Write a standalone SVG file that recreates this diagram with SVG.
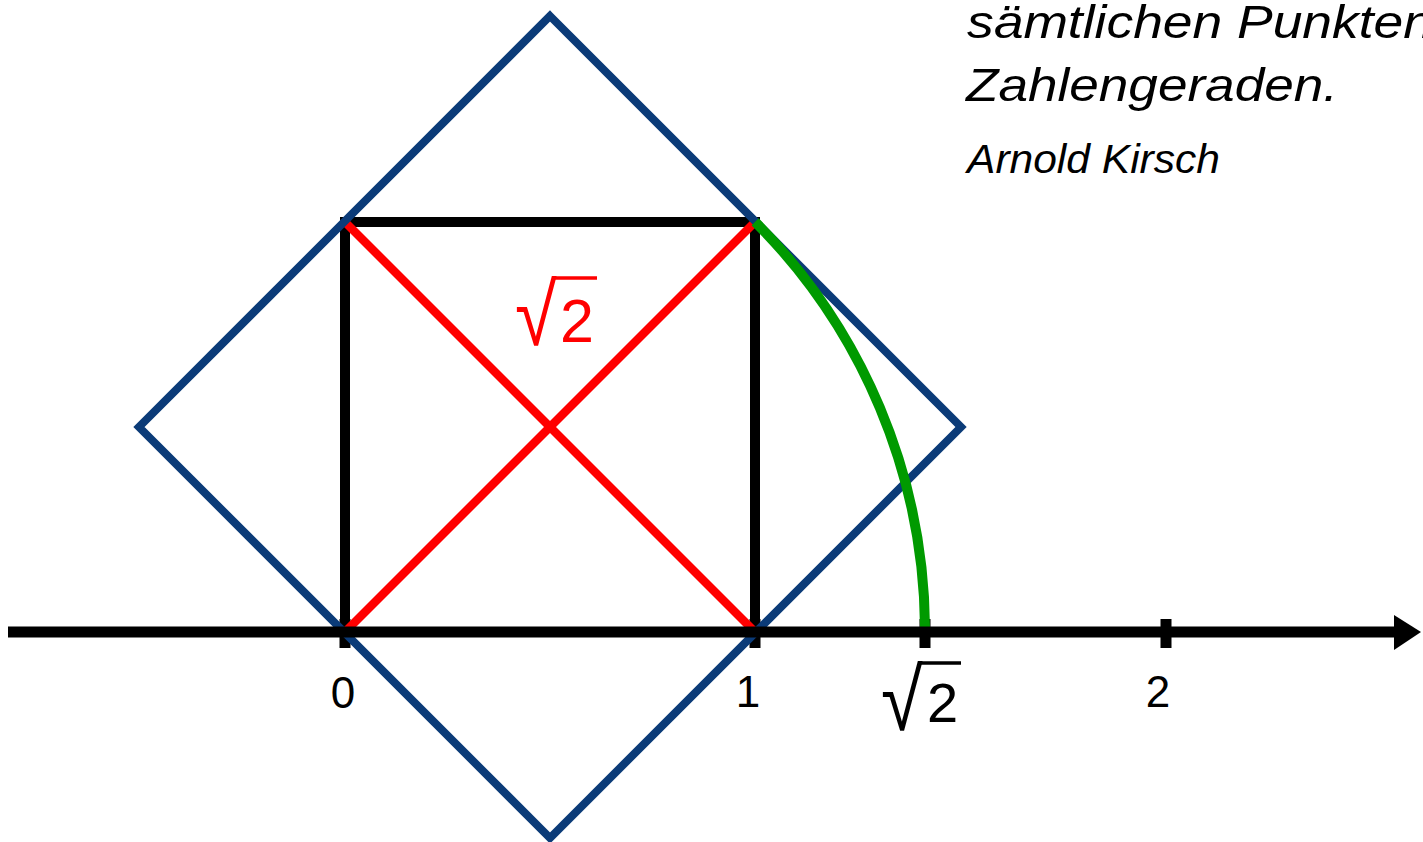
<svg xmlns="http://www.w3.org/2000/svg" width="1423" height="842" viewBox="0 0 1423 842">
<style>
.lbl{font-family:"Liberation Sans",Arial,sans-serif;fill:#000}
.it{font-family:"Liberation Sans",Arial,sans-serif;font-style:italic;fill:#000}
.blue{fill:none;stroke:#0b3b78;stroke-width:8}
.blk{fill:none;stroke:#000;stroke-width:10}
.red{fill:none;stroke:#ff0000;stroke-width:8.5}
.grn{fill:none;stroke:#009a00;stroke-width:10}
.tick{stroke:#000;stroke-width:11}
</style>
<rect width="1423" height="842" fill="#fff"/>
<g id="square"><rect class="blk" x="345" y="222" width="410" height="410"/></g>
<g id="ticks">
<line class="tick" x1="345" y1="619" x2="345" y2="648"/>
<line class="tick" x1="755" y1="619" x2="755" y2="648"/>
<line class="tick" x1="925" y1="619" x2="925" y2="648"/>
<line class="tick" x1="1166" y1="619" x2="1166" y2="648"/>
</g>
<g id="diagonals">
<line class="red" x1="345" y1="632" x2="755" y2="222"/>
<line class="red" x1="345" y1="222" x2="755" y2="632"/>
</g>
<g id="diamond"><polygon class="blue" points="550,16 961,427 550,838 139,427"/></g>
<g id="arc"><path class="grn" d="M755.1,221.9 A580,580 0 0 1 925,627"/></g>
<g id="axis">
<line x1="8" y1="632" x2="1396" y2="632" stroke="#000" stroke-width="11"/>
<polygon points="1394,615 1421,632 1394,650" fill="#000"/>
</g>
<g id="labels">
<text class="lbl" x="343" y="708" font-size="44" text-anchor="middle">0</text>
<text class="lbl" x="748" y="707" font-size="44" text-anchor="middle">1</text>
<text class="lbl" x="1158" y="707" font-size="44" text-anchor="middle">2</text>
<g transform="translate(881,730) scale(1,1.15)"><text class="lbl" x="0" y="0" font-size="76">√</text></g>
<line x1="920" y1="663" x2="961" y2="663" stroke="#000" stroke-width="3.5"/>
<text class="lbl" x="927" y="722" font-size="56">2</text>
<g transform="translate(515,345) scale(1,1.15)"><text class="lbl" x="0" y="0" font-size="76" style="fill:#ff0000">√</text></g>
<line x1="553" y1="278" x2="597" y2="278" stroke="#ff0000" stroke-width="3.5"/>
<text class="lbl" x="560" y="342" font-size="61" style="fill:#ff0000">2</text>
</g>
<g id="quote">
<text class="it" x="967" y="38" font-size="46" textLength="466" lengthAdjust="spacingAndGlyphs">sämtlichen Punkten</text>
<text class="it" x="966" y="101" font-size="46" textLength="372" lengthAdjust="spacingAndGlyphs">Zahlengeraden.</text>
<text class="it" x="967" y="173" font-size="41" textLength="253" lengthAdjust="spacingAndGlyphs">Arnold Kirsch</text>
</g>
</svg>
